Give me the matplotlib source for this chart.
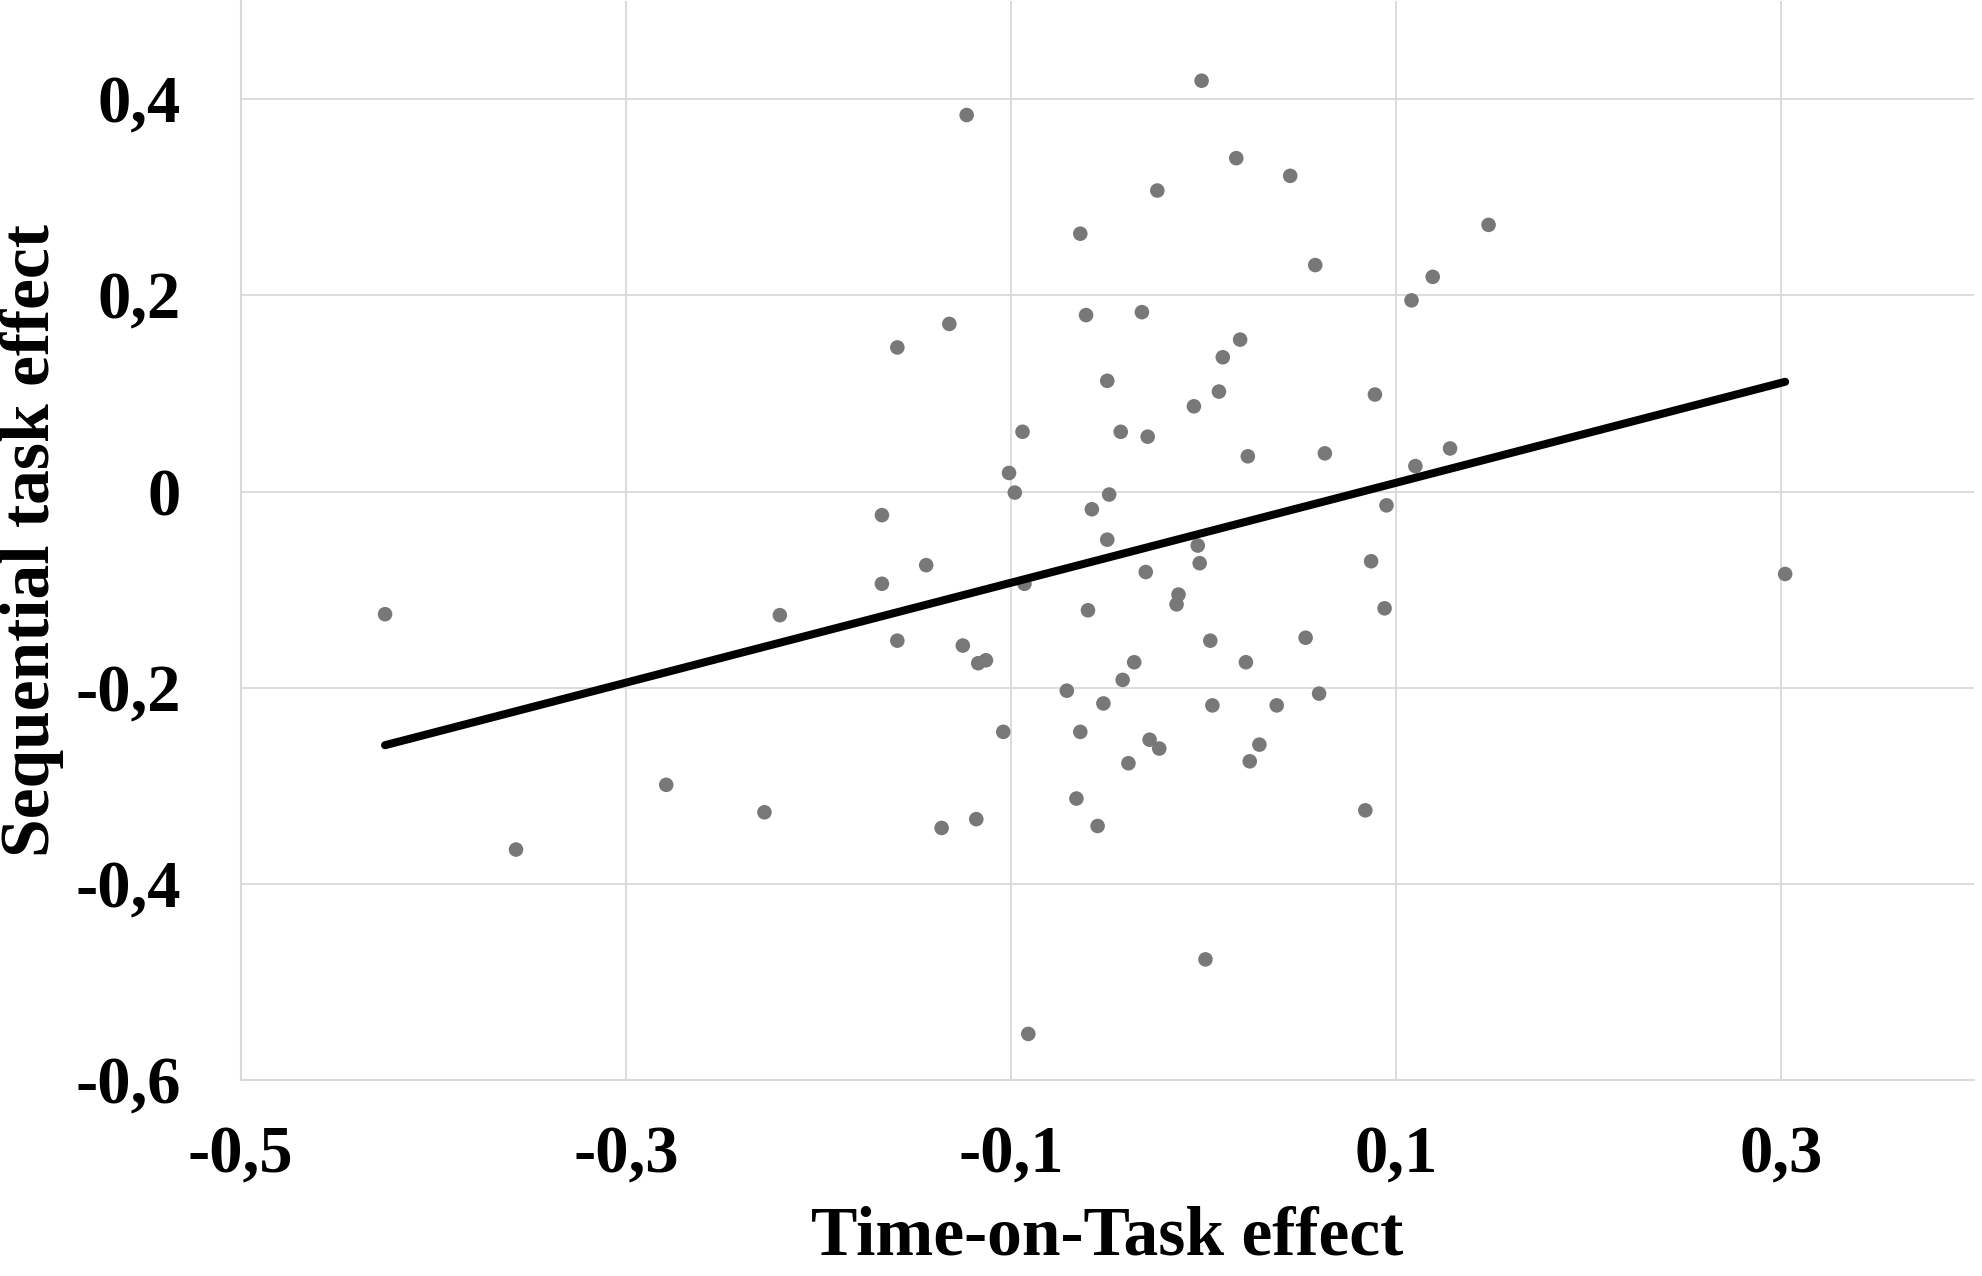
import numpy as np
import matplotlib
matplotlib.use("Agg")
from matplotlib import pyplot as plt

# Time-on-Task effect (x) vs Sequential task effect (y), one dot per participant
tot_effect = [
    -0.425, -0.357, -0.279, -0.228, -0.220, -0.167, -0.167, -0.159, -0.159, -0.144,
    -0.136, -0.132, -0.125, -0.123, -0.118, -0.117, -0.113, -0.104, -0.101, -0.098,
    -0.094, -0.093, -0.091, -0.071, -0.066, -0.064, -0.064, -0.061, -0.060, -0.058,
    -0.055, -0.052, -0.050, -0.050, -0.049, -0.043, -0.042, -0.039, -0.036, -0.032,
    -0.030, -0.029, -0.028, -0.023, -0.024, -0.014, -0.013, -0.005, -0.003, -0.002,
    -0.001, 0.001, 0.0035, 0.0046, 0.008, 0.010, 0.017, 0.019, 0.022, 0.023,
    0.024, 0.029, 0.038, 0.045, 0.053, 0.058, 0.060, 0.063, 0.084, 0.087,
    0.089, 0.094, 0.095, 0.108, 0.110, 0.119, 0.128, 0.148, 0.302,
]
seq_effect = [
    -0.125, -0.365, -0.299, -0.327, -0.126, -0.024, -0.094, 0.147, -0.152, -0.075,
    -0.343, 0.171, -0.157, 0.384, -0.334, -0.175, -0.172, -0.245, 0.019, -0.001,
    0.061, -0.094, -0.553, -0.203, -0.313, 0.263, -0.245, 0.180, -0.121, -0.018,
    -0.341, -0.216, -0.049, 0.113, -0.003, 0.061, -0.192, -0.277, -0.174, 0.183,
    -0.082, 0.056, -0.253, -0.262, 0.307, -0.115, -0.105, 0.087, -0.055, -0.073,
    0.419, -0.477, -0.152, -0.218, 0.102, 0.137, 0.340, 0.155, -0.174, 0.036,
    -0.275, -0.258, -0.218, 0.322, -0.149, 0.231, -0.206, 0.039, -0.325, -0.071,
    0.099, -0.119, -0.014, 0.195, 0.026, 0.219, 0.044, 0.272, -0.084,
]

x_ticks = [-0.5, -0.3, -0.1, 0.1, 0.3]
x_tick_labels = ["-0,5", "-0,3", "-0,1", "0,1", "0,3"]
y_ticks = [-0.6, -0.4, -0.2, 0.0, 0.2, 0.4]
y_tick_labels = ["-0,6", "-0,4", "-0,2", "0", "0,2", "0,4"]

font = "Liberation Serif"
grid_col = "#d9d9d9"

fig = plt.figure(figsize=(19.82, 12.76), dpi=100)
ax = fig.add_axes([0.1214, 0.1536, 0.8745, 0.8454])

x = np.array(tot_effect)
y = np.array(seq_effect)

ax.scatter(x, y, s=110, color="#787878", edgecolors="none", zorder=3)

# linear trendline over the data range
slope, intercept = np.polyfit(x, y, 1)
xs = np.array([x.min(), x.max()])
ax.plot(xs, slope * xs + intercept, color="black", lw=5.8,
        solid_capstyle="round", zorder=4)

ax.set_xlim(-0.5, 0.4)
ax.set_ylim(-0.6, 0.5)
ax.set_xticks(x_ticks)
ax.set_xticklabels(x_tick_labels)
ax.set_yticks(y_ticks)
ax.set_yticklabels(y_tick_labels)

ax.grid(True, color=grid_col, lw=1.3, zorder=0)
ax.set_axisbelow(True)
for side in ["top", "right"]:
    ax.spines[side].set_visible(False)
for side in ["left", "bottom"]:
    ax.spines[side].set_color(grid_col)
    ax.spines[side].set_linewidth(1.5)

ax.tick_params(axis="both", length=0, labelsize=48)
ax.tick_params(axis="x", pad=33)
ax.tick_params(axis="y", pad=43)
for lab in ax.get_xticklabels() + ax.get_yticklabels():
    lab.set_fontfamily(font)
    lab.set_fontweight("bold")

ax.set_xlabel("Time-on-Task effect", fontsize=50, fontfamily=font, fontweight="bold")
ax.set_ylabel("Sequential task effect", fontsize=50, fontfamily=font, fontweight="bold")
ax.xaxis.label.set_va("center")
ax.yaxis.label.set_va("center")
ax.xaxis.set_label_coords(0.5, -0.146)
ax.yaxis.set_label_coords(-0.1203, 0.5)

fig.savefig("out.png", dpi=100)
